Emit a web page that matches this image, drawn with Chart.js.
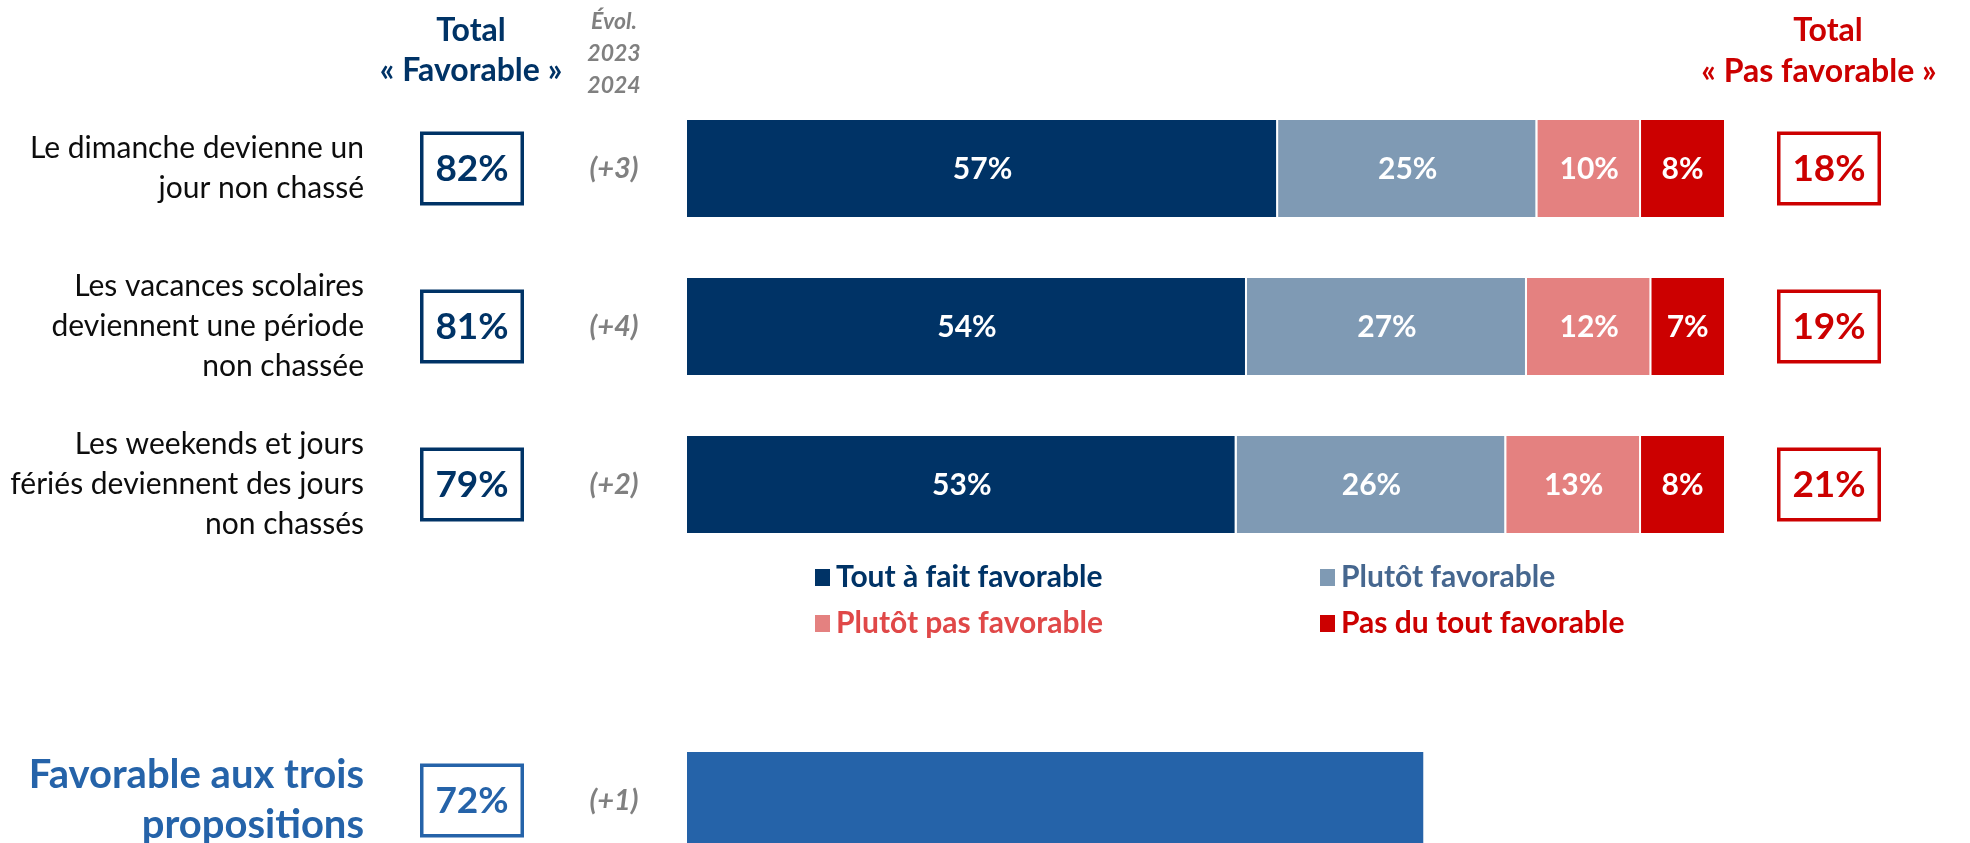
<!DOCTYPE html>
<html>
<head>
<meta charset="utf-8">
<script src="https://cdn.jsdelivr.net/npm/chart.js@4.4.1/dist/chart.umd.min.js"></script>
<style>
  html, body { margin: 0; padding: 0; background: #fff; overflow: hidden; }
  #wrap { width: 1970px; height: 843px; overflow: hidden; position: relative; }
  canvas { display: block; }
</style>
</head>
<body>
<div id="wrap"><canvas id="c" width="1970" height="880"></canvas></div>
<script>
// ---- Data ----
const categories = [
  ['Le dimanche devienne un', 'jour non chassé'],
  ['Les vacances scolaires', 'deviennent une période', 'non chassée'],
  ['Les weekends et jours', 'fériés deviennent des jours', 'non chassés'],
  [],
  ['Favorable aux trois', 'propositions']
];
const seriesNames = ['Tout à fait favorable', 'Plutôt favorable', 'Plutôt pas favorable', 'Pas du tout favorable', 'Favorable aux trois propositions'];
const toutAFait   = [57, 54, 53, null, null];
const plutotFav   = [25, 27, 26, null, null];
const plutotPas   = [10, 12, 13, null, null];
const pasDuTout   = [8, 7, 8, null, null];
const troisProps  = [null, null, null, null, 71];
const totalFavorable = ['82%', '81%', '79%', null, '72%'];
const totalPasFav    = ['18%', '19%', '21%', null, null];
const evolution      = ['(+3)', '(+4)', '(+2)', null, '(+1)'];

// ---- Styles ----
const NAVY = '#003366', SLATE = '#7F9AB4', PINK = '#E48180', RED = '#CC0000', BLUE = '#2563A9', GRAY = '#808080';
const FONT = 'Lato, "Open Sans", sans-serif';
const segColors = [NAVY, SLATE, PINK, RED, BLUE];
const legendTextColors = [NAVY, '#46678F', '#E04848', RED];
const SUMMARY = 4;

function box(ctx, cx, cy, col) {
  ctx.strokeStyle = col;
  ctx.lineWidth = 3.5;
  ctx.strokeRect(cx - 50.25, cy - 35.25, 100.5, 70.5);
}

const textPlugin = {
  id: 'textPlugin',
  afterDatasetsDraw(chart) {
    const ctx = chart.ctx;
    const y = chart.scales.y;
    ctx.save();
    ctx.textBaseline = 'middle';
    // segment labels
    chart.data.datasets.forEach((ds, di) => {
      if (di === 4) return;
      const meta = chart.getDatasetMeta(di);
      meta.data.forEach((el, i) => {
        const v = ds.data[i];
        if (v == null) return;
        ctx.fillStyle = '#fff';
        ctx.font = 'bold 30px ' + FONT;
        ctx.textAlign = 'center';
        ctx.fillText(v + '%', (el.x + el.base) / 2, el.y + 1);
      });
    });
    // headers
    ctx.textAlign = 'center';
    ctx.fillStyle = NAVY;
    ctx.font = 'bold 32px ' + FONT;
    ctx.fillText('Total', 471, 31);
    ctx.fillText('« Favorable »', 471, 71);
    ctx.fillStyle = GRAY;
    ctx.font = 'italic bold 23px ' + FONT;
    ctx.fillText('Évol.', 614, 22);
    ctx.fillText('2023', 614, 54);
    ctx.fillText('2024', 614, 86);
    ctx.fillStyle = RED;
    ctx.font = 'bold 32px ' + FONT;
    ctx.fillText('Total', 1828, 31);
    ctx.fillText('« Pas favorable »', 1819, 72);

    // rows
    categories.forEach((lines, i) => {
      const cy = y.getPixelForValue(i);
      const isSummary = i === SUMMARY;
      ctx.textAlign = 'right';
      if (lines.length) {
        const lh = isSummary ? 50 : 40;
        ctx.font = (isSummary ? 'bold 40px ' : '30px ') + FONT;
        ctx.fillStyle = isSummary ? BLUE : '#0d0d0d';
        const start = cy - (lines.length - 1) * lh / 2;
        lines.forEach((t, k) => ctx.fillText(t, 364, start + k * lh));
      }
      if (totalFavorable[i]) {
        const col = isSummary ? BLUE : NAVY;
        box(ctx, 472, cy, col);
        ctx.fillStyle = col;
        ctx.font = 'bold 37px ' + FONT;
        ctx.textAlign = 'center';
        ctx.fillText(totalFavorable[i], 472, cy + 1);
      }
      if (evolution[i]) {
        ctx.fillStyle = GRAY;
        ctx.font = 'italic bold 29px ' + FONT;
        ctx.textAlign = 'center';
        ctx.fillText(evolution[i], 614, cy);
      }
      if (totalPasFav[i]) {
        box(ctx, 1829, cy, RED);
        ctx.fillStyle = RED;
        ctx.font = 'bold 37px ' + FONT;
        ctx.textAlign = 'center';
        ctx.fillText(totalPasFav[i], 1829, cy + 1);
      }
    });

    // legend
    const legPos = [[815, 577], [1320, 577], [815, 623], [1320, 623]];
    ctx.textAlign = 'left';
    ctx.font = 'bold 30px ' + FONT;
    for (let k = 0; k < 4; k++) {
      const [lx, ly] = legPos[k];
      ctx.fillStyle = segColors[k];
      ctx.fillRect(lx, ly - 8, 15, 17);
      ctx.fillStyle = legendTextColors[k];
      ctx.fillText(seriesNames[k], lx + 21, ly);
    }
    ctx.restore();
  }
};

const datasets = [toutAFait, plutotFav, plutotPas, pasDuTout, troisProps].map((d, k) => ({
  label: seriesNames[k],
  data: d,
  backgroundColor: segColors[k],
  borderColor: '#ffffff',
  borderWidth: k < 3 ? { top: 0, bottom: 0, left: 0, right: 2 } : 0,
  borderSkipped: false,
  stack: 's'
}));

new Chart(document.getElementById('c'), {
  type: 'bar',
  data: { labels: categories.map((_, i) => 'r' + i), datasets },
  options: {
    indexAxis: 'y',
    responsive: false,
    animation: false,
    devicePixelRatio: 1,
    layout: { padding: { left: 687, right: 246, top: 89.5, bottom: 0.5 } },
    datasets: { bar: { categoryPercentage: 1, barPercentage: 0.614 } },
    scales: {
      x: { display: false, stacked: true, min: 0, max: 100 },
      y: { display: false, stacked: true }
    },
    plugins: { legend: { display: false }, tooltip: { enabled: false } }
  },
  plugins: [textPlugin]
});
</script>
</body>
</html>
